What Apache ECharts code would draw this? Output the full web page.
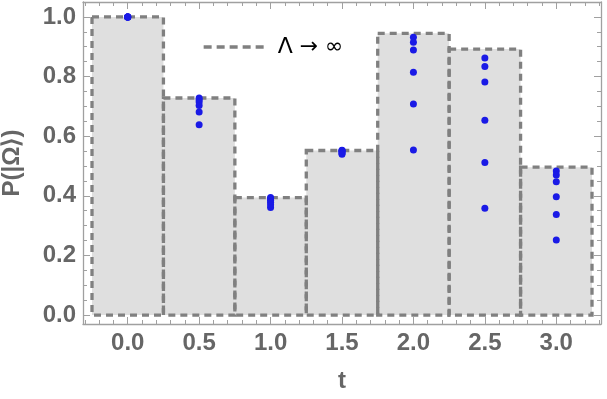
<!DOCTYPE html>
<html>
<head>
<meta charset="utf-8">
<script src="https://cdn.jsdelivr.net/npm/echarts@6/dist/echarts.min.js"></script>
<style>html,body{margin:0;padding:0;background:#fff;}#c{width:607px;height:399px;}</style>
</head>
<body>
<div id="c"></div>
<script>
// ---- data ----
const times = [0, 0.5, 1.0, 1.5, 2.0, 2.5, 3.0];
const limitHeights = [1.0, 0.728, 0.394, 0.552, 0.945, 0.892, 0.496];
const pts_t00 = [1.0, 1.0, 1.0, 1.0, 1.0, 1.0];
const pts_t05 = [0.728, 0.722, 0.715, 0.703, 0.681, 0.638];
const pts_t10 = [0.394, 0.390, 0.385, 0.378, 0.370, 0.361];
const pts_t15 = [0.553, 0.552, 0.550, 0.547, 0.543, 0.539];
const pts_t20 = [0.932, 0.915, 0.889, 0.814, 0.708, 0.554];
const pts_t25 = [0.862, 0.834, 0.782, 0.653, 0.512, 0.358];
const pts_t30 = [0.483, 0.470, 0.447, 0.397, 0.337, 0.252];
const xTickLabels = ['0.0', '0.5', '1.0', '1.5', '2.0', '2.5', '3.0'];
const yTickLabels = ['0.0', '0.2', '0.4', '0.6', '0.8', '1.0'];
const legendLabel = 'Λ → ∞';
const xName = 't';
const yName = 'P(|Ω⟩)';

// ---- build ----
const binHalfWidth = 0.25;
const allPts = [pts_t00, pts_t05, pts_t10, pts_t15, pts_t20, pts_t25, pts_t30];
const scatterData = [];
allPts.forEach((arr, i) => arr.forEach(v => scatterData.push([times[i], v])));
const barData = times.map((t, i) => [t, limitHeights[i]]);

const xMajor = xTickLabels.map(Number);
const yMajor = yTickLabels.map(Number);
const xMinor = [];
for (let k = -3; k <= 33; k++) { const v = k / 10; if (k % 5 !== 0) xMinor.push(v); }
const yMinor = [];
for (let k = 0; k <= 21; k++) { const v = k / 20; if (k % 4 !== 0) yMinor.push(v); }

const XMIN = -0.313, XMAX = 3.313, YMIN = -0.03, YMAX = 1.05;
const frameColor = '#a0a0a0';
const labelColor = '#666666';
const FONT = '"Liberation Sans", Arial, sans-serif';

function xAx(pos, ticks, len, showLabels, showLine) {
  return {
    type: 'value', position: pos, min: XMIN, max: XMAX, offset: 0,
    axisLine: { show: showLine, onZero: false, lineStyle: { color: frameColor, width: 1.3 } },
    axisTick: { show: true, inside: true, length: len, customValues: ticks, lineStyle: { color: frameColor, width: 1 } },
    axisLabel: showLabels ? { show: true, customValues: xMajor, formatter: v => v.toFixed(1), color: labelColor, fontSize: 24, fontWeight: 'bold', fontFamily: FONT, margin: 7 } : { show: false },
    splitLine: { show: false }
  };
}
function yAx(pos, ticks, len, showLabels, showLine) {
  return {
    type: 'value', position: pos, min: YMIN, max: YMAX, offset: 0,
    axisLine: { show: showLine, onZero: false, lineStyle: { color: frameColor, width: 1.3 } },
    axisTick: { show: true, inside: true, length: len, customValues: ticks, lineStyle: { color: frameColor, width: 1 } },
    axisLabel: showLabels ? { show: true, customValues: yMajor, formatter: v => v.toFixed(1), color: labelColor, fontSize: 24, fontWeight: 'bold', fontFamily: FONT, margin: 7 } : { show: false },
    splitLine: { show: false }
  };
}

const xAxes = [
  xAx('bottom', xMajor, 7, true, true),
  xAx('bottom', xMinor, 4, false, false),
  xAx('top', xMajor, 7, false, true),
  xAx('top', xMinor, 4, false, false)
];
Object.assign(xAxes[0], { name: xName, nameLocation: 'middle', nameGap: 45, nameTextStyle: { color: labelColor, fontSize: 24, fontWeight: 'bold', fontFamily: FONT } });
const yAxes = [
  yAx('left', yMajor, 7, true, true),
  yAx('left', yMinor, 4, false, false),
  yAx('right', yMajor, 7, false, true),
  yAx('right', yMinor, 4, false, false)
];
Object.assign(yAxes[0], { name: yName, nameLocation: 'middle', nameGap: 59, nameTextStyle: { color: labelColor, fontSize: 24, fontWeight: 'bold', fontFamily: FONT } });

function rectItem(api, withFill) {
  const t = api.value(0), p = api.value(1);
  const tl = api.coord([t - binHalfWidth, p]);
  const br = api.coord([t + binHalfWidth, 0]);
  return {
    type: 'rect',
    shape: { x: tl[0], y: tl[1], width: br[0] - tl[0], height: br[1] - tl[1] },
    style: withFill ? { fill: '#dfdfdf', stroke: null } : { fill: null, stroke: '#808080', lineWidth: 3.3, lineDash: [7, 5] }
  };
}

const chart = echarts.init(document.getElementById('c'), null, { renderer: 'canvas' });
chart.setOption({
  animation: false,
  backgroundColor: '#ffffff',
  grid: { left: 83, right: 6, top: 2, bottom: 75, show: false, containLabel: false, outerBoundsMode: 'none' },
  xAxis: xAxes,
  yAxis: yAxes,
  legend: {
    show: true, left: 197, top: 31,
    itemWidth: 60, itemHeight: 24,
    data: [{ name: legendLabel }],
    itemStyle: { opacity: 0, borderWidth: 0 },
    lineStyle: { color: '#808080', width: 3.3, type: [8, 5], opacity: 1 },
    textStyle: { color: '#000', fontSize: 22, fontFamily: '"DejaVu Sans", sans-serif', padding: [0, 0, 0, 9] },
    selectedMode: false
  },
  series: [
    { type: 'custom', name: 'fill', xAxisIndex: 0, yAxisIndex: 0, data: barData, z: 1, renderItem: (params, api) => rectItem(api, true) },
    { type: 'custom', name: 'outline', xAxisIndex: 0, yAxisIndex: 0, data: barData, z: 2, renderItem: (params, api) => rectItem(api, false) },
    { type: 'line', name: legendLabel, data: [], symbol: 'none', color: '#808080', lineStyle: { color: '#808080', width: 3.3, type: [8, 5] } },
    { type: 'scatter', name: 'pts', xAxisIndex: 0, yAxisIndex: 0, data: scatterData, z: 5, symbolSize: 7, itemStyle: { color: '#1a1ae6', opacity: 1 } }
  ]
});
</script>
</body>
</html>
